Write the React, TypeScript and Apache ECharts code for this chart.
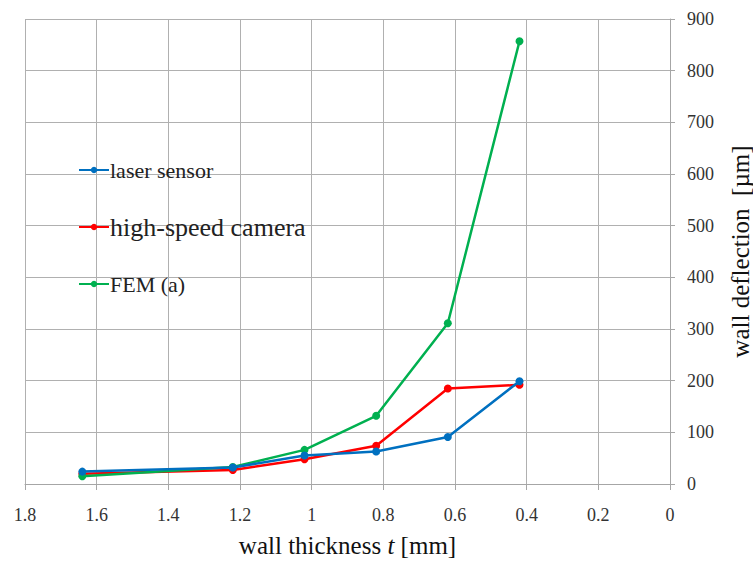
import React, { useEffect, useRef } from "react";
import * as echarts from "echarts";

const thickness = [1.64, 1.22, 1.02, 0.82, 0.62, 0.42];
const laserSensor = [24, 32, 55, 63, 91, 199];
const highSpeedCamera = [20, 27, 48, 74, 185, 192];
const femA = [15, 33, 66, 132, 311, 857];
const seriesNames = ["laser sensor", "high-speed camera", "FEM (a)"];
const seriesColors = ["#0070C0", "#FF0000", "#00B050"];

const FONT = "'Liberation Serif', 'DejaVu Serif', serif";

export default function App() {
  const ref = useRef<HTMLDivElement>(null);
  useEffect(() => {
    if (!ref.current) return;
    const chart = echarts.init(ref.current, null, { renderer: "svg" });
    const allData = [laserSensor, highSpeedCamera, femA];
    chart.setOption({
      animation: false,
      backgroundColor: "#ffffff",
      textStyle: { fontFamily: FONT, color: "#333" },
      grid: { left: 25, right: 83, top: 19, bottom: 79, outerBoundsMode: "none", containLabel: false },
      legend: {
        orient: "vertical",
        left: 73,
        top: 154,
        itemWidth: 30,
        itemHeight: 8,
        itemGap: 33,
        data: seriesNames,
        formatter: (n: string) =>
          n === "high-speed camera" ? `{b|${n}}` : `{a|${n}}`,
        textStyle: {
          fontFamily: FONT,
          color: "#222",
          padding: [0, 0, 0, -4],
          rich: {
            a: { fontFamily: FONT, fontSize: 22, color: "#222" },
            b: { fontFamily: FONT, fontSize: 26, color: "#222" },
          },
        },
      },
      xAxis: {
        type: "value",
        inverse: true,
        min: 0,
        max: 1.8,
        interval: 0.2,
        name: "{a|wall thickness }{i|t}{a| [mm]}",
        nameLocation: "middle",
        nameGap: 49,
        nameTextStyle: {
          fontFamily: FONT,
          rich: {
            a: { fontFamily: FONT, fontSize: 25, color: "#111" },
            i: { fontFamily: FONT, fontSize: 25, fontStyle: "italic", color: "#111" },
          },
        },
        axisLine: { show: true, lineStyle: { color: "#a6a6a6", width: 1 } },
        axisTick: { show: true, length: 6, lineStyle: { color: "#a6a6a6" } },
        axisLabel: {
          margin: 22,
          fontFamily: FONT,
          fontSize: 18,
          color: "#333",
          formatter: (v: number) => String(parseFloat(v.toFixed(1))),
        },
        splitLine: { show: true, lineStyle: { color: "#b0b0b0", width: 1 } },
      },
      yAxis: {
        type: "value",
        position: "right",
        min: 0,
        max: 900,
        interval: 100,
        name: "wall deflection  [µm]",
        nameLocation: "middle",
        nameRotate: 90,
        nameGap: 58,
        nameTextStyle: { fontFamily: FONT, fontSize: 25, color: "#111" },
        axisLine: { show: true, lineStyle: { color: "#a6a6a6", width: 1 } },
        axisTick: { show: true, length: 5, lineStyle: { color: "#a6a6a6" } },
        axisLabel: {
          margin: 17,
          fontFamily: FONT,
          fontSize: 18,
          color: "#333",
        },
        splitLine: { show: true, lineStyle: { color: "#b0b0b0", width: 1 } },
      },
      series: seriesNames.map((name, i) => ({
        name,
        type: "line",
        data: thickness.map((t, j) => [t, allData[i][j]]),
        symbol: "circle",
        symbolSize: 8,
        lineStyle: { width: 2.5, color: seriesColors[i] },
        itemStyle: { color: seriesColors[i] },
        z: 2 + (i === 0 ? 1 : 0),
      })),
    });
    return () => chart.dispose();
  }, []);
  return (
    <div
      ref={ref}
      style={{ position: "fixed", left: 0, top: 0, width: 753, height: 563 }}
    />
  );
}
